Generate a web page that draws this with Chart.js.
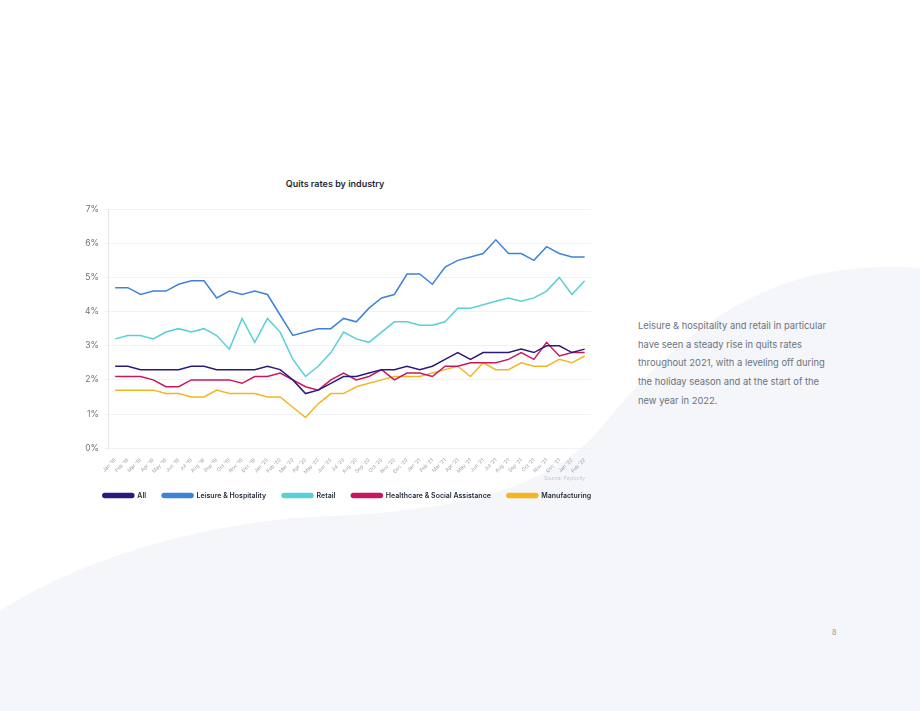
<!DOCTYPE html>
<html>
<head>
<meta charset="utf-8">
<script src="https://cdn.jsdelivr.net/npm/chart.js@4"></script>
<style>
  html, body { margin: 0; padding: 0; }
  body { width: 920px; height: 711px; position: relative; overflow: hidden; background: #ffffff; font-family: Inter, "Noto Sans", sans-serif; }
  #wave { position: absolute; left: 0; top: 0; }
  #title { position: absolute; left: 235px; top: 178px; width: 200px; text-align: center; font-size: 9px; font-weight: 600; color: #1f2a37; }
  #chartBox { position: absolute; left: 75px; top: 198px; width: 540px; height: 311px; }
  #source { position: absolute; left: 544px; top: 475px; font-size: 5px; color: #c3c8cf; }
  #note { position: absolute; left: 638px; top: 317px; width: 196px; font-size: 9.4px; line-height: 18.7px; color: #6b7280; }
  #page { position: absolute; left: 832px; top: 628px; font-size: 7px; color: #8a919b; }
</style>
</head>
<body>
<svg id="wave" width="920" height="711">
  <path d="M0,611 C70,565 190,522 330,516 C450,511 540,492 595,435 C650,368 715,300 810,276 C860,265 895,266 920,268 L920,711 L0,711 Z" fill="#f4f6f9"/>
</svg>
<div id="title">Quits rates by industry</div>
<div id="chartBox"><canvas id="myChart"></canvas></div>
<div id="source">Source: Paylocity</div>
<div id="note">Leisure &amp; hospitality and retail in particular have seen a steady rise in quits rates throughout 2021, with a leveling off during the holiday season and at the start of the new year in 2022.</div>
<div id="page">8</div>
<script>
const months = ['Jan', 'Feb', 'Mar', 'Apr', 'May', 'Jun', 'Jul', 'Aug', 'Sep', 'Oct', 'Nov', 'Dec'];
const labels = [];
['19', '20', '21'].forEach(y => months.forEach(m => labels.push(m + " '" + y)));
labels.push("Jan '22", "Feb '22");

const allIndustries = [2.4, 2.4, 2.3, 2.3, 2.3, 2.3, 2.4, 2.4, 2.3, 2.3, 2.3, 2.3, 2.4, 2.3, 2.0, 1.6, 1.7, 1.9, 2.1, 2.1, 2.2, 2.3, 2.3, 2.4, 2.3, 2.4, 2.6, 2.8, 2.6, 2.8, 2.8, 2.8, 2.9, 2.8, 3.0, 3.0, 2.8, 2.9];
const leisure = [4.7, 4.7, 4.5, 4.6, 4.6, 4.8, 4.9, 4.9, 4.4, 4.6, 4.5, 4.6, 4.5, 3.9, 3.3, 3.4, 3.5, 3.5, 3.8, 3.7, 4.1, 4.4, 4.5, 5.1, 5.1, 4.8, 5.3, 5.5, 5.6, 5.7, 6.1, 5.7, 5.7, 5.5, 5.9, 5.7, 5.6, 5.6];
const retail = [3.2, 3.3, 3.3, 3.2, 3.4, 3.5, 3.4, 3.5, 3.3, 2.9, 3.8, 3.1, 3.8, 3.4, 2.6, 2.1, 2.4, 2.8, 3.4, 3.2, 3.1, 3.4, 3.7, 3.7, 3.6, 3.6, 3.7, 4.1, 4.1, 4.2, 4.3, 4.4, 4.3, 4.4, 4.6, 5.0, 4.5, 4.9];
const healthcare = [2.1, 2.1, 2.1, 2.0, 1.8, 1.8, 2.0, 2.0, 2.0, 2.0, 1.9, 2.1, 2.1, 2.2, 2.0, 1.8, 1.7, 2.0, 2.2, 2.0, 2.1, 2.3, 2.0, 2.2, 2.2, 2.1, 2.4, 2.4, 2.5, 2.5, 2.5, 2.6, 2.8, 2.6, 3.1, 2.7, 2.8, 2.8];
const manufacturing = [1.7, 1.7, 1.7, 1.7, 1.6, 1.6, 1.5, 1.5, 1.7, 1.6, 1.6, 1.6, 1.5, 1.5, 1.2, 0.9, 1.3, 1.6, 1.6, 1.8, 1.9, 2.0, 2.1, 2.1, 2.1, 2.2, 2.3, 2.4, 2.1, 2.5, 2.3, 2.3, 2.5, 2.4, 2.4, 2.6, 2.5, 2.7];
const yTicks = [0, 1, 2, 3, 4, 5, 6, 7];

function line(label, data, color) {
    return {
        label: label,
        data: data,
        borderColor: color,
        backgroundColor: color,
        borderWidth: 1.5,
        tension: 0,
        pointRadius: 0,
        fill: false
    };
}

const ctx = document.getElementById('myChart').getContext('2d');
const myChart = new Chart(ctx, {
    type: 'line',
    data: {
        labels: labels,
        datasets: [
            line('All', allIndustries, '#2b1a7d'),
            line('Leisure & Hospitality', leisure, '#3f83d8'),
            line('Retail', retail, '#58d0d8'),
            line('Healthcare & Social Assistance', healthcare, '#c8175d'),
            line('Manufacturing', manufacturing, '#f5b523')
        ]
    },
    options: {
        responsive: true,
        maintainAspectRatio: false,
        animation: false,
        layout: { padding: { top: 4, left: 4, right: 0, bottom: 0 } },
        scales: {
            y: {
                min: 0,
                max: 7,
                afterBuildTicks: (s) => { s.ticks = yTicks.map(v => ({ value: v })); },
                grid: { color: '#f1f2f4', tickLength: 4 },
                border: { color: '#e3e5e8' },
                ticks: {
                    color: '#6b7280',
                    font: { family: 'Inter', size: 8.5 },
                    padding: 6,
                    callback: (v) => v + '%'
                }
            },
            y2: {
                position: 'right',
                display: true,
                grid: { display: false },
                border: { display: false },
                ticks: { display: false },
                afterFit: (s) => { s.width = 24; }
            },
            x: {
                offset: true,
                grid: { display: false },
                border: { display: false },
                ticks: {
                    color: '#9aa1ab',
                    font: { family: 'Inter', size: 5 },
                    autoSkip: false,
                    minRotation: 45,
                    maxRotation: 45,
                    padding: 1
                }
            }
        },
        plugins: {
            legend: {
                position: 'bottom',
                labels: {
                    color: '#1f2a37',
                    font: { family: 'Inter', size: 7, weight: '600' },
                    boxWidth: 31,
                    boxHeight: 4,
                    useBorderRadius: true,
                    borderRadius: 2,
                    padding: 16
                }
            },
            tooltip: { enabled: false }
        }
    }
});
</script>
</body>
</html>
